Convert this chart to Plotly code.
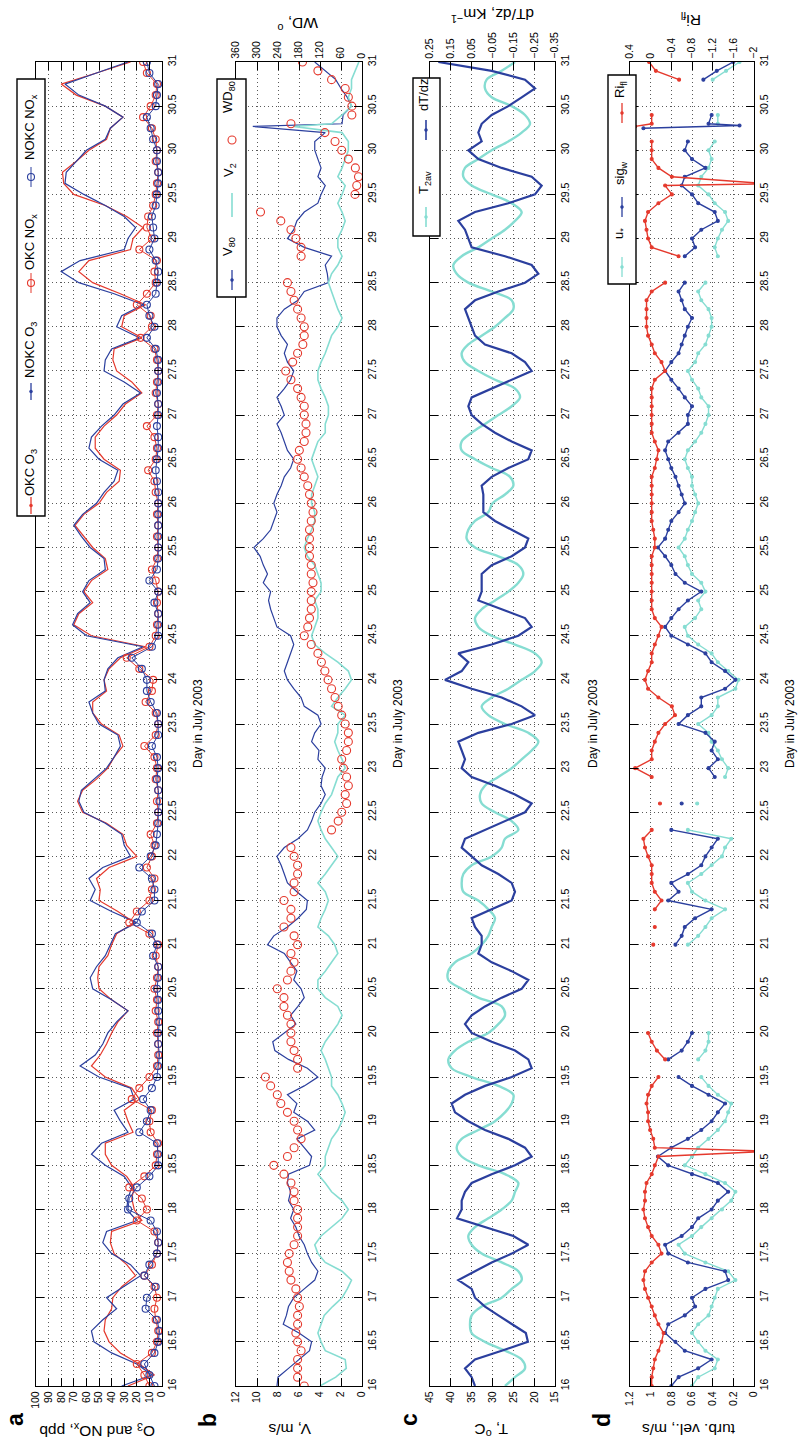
import plotly.graph_objects as go

W, H = 799, 1440
FONT = "Liberation Sans, Arial, Helvetica, sans-serif"

days_a = [16 + 0.125 * i for i in range(121)]          # panel a (every 3 h)
days_b = [round(16 + 0.1 * i, 1) for i in range(151)]  # panels b, c, d

# ---------------- panel a : O3 and NOx, ppb ----------------
o3_okc = [27, 6, 18, 33, 42, 46, 45, 40,
          39, 32, 21, 28, 38, 41, 40, 16,
          22, 24, 22, 28, 40, 45, 45, 23,
          27, 30, 18, 24, 45, 56, 49, 44,
          40, 35, 27, 40, 50, 51, 50, 43,
          40, 36, 22, 35, 50, 49, 52, 42,
          20, 28, 31, 44, 63, 67, 63, 52,
          43, 38, 31, 34, 48, 55, 55, 44,
          46, 42, 33, 13, 56, 70, 66, 55,
          62, 56, 43, 45, 55, 62, 69, 62,
          50, 44, 34, 33, 46, 53, 53, 46,
          36, 29, 16, 24, 36, 39, 38, 16,
          32, 30, 13, 33, 55, 66, 58, 25,
          23, 15, 28, 45, 70, 78, 79, 68,
          58, 44, 41, 31, 45, 68, 80, 52,
          25]
o3_nokc = [32, 8, 20, 40, 54, 56, 47, 36,
           44, 30, 17, 25, 40, 47, 44, 20,
           28, 27, 24, 30, 45, 56, 48, 27,
           33, 38, 22, 25, 50, 65, 53, 47,
           43, 36, 27, 40, 55, 57, 52, 45,
           41, 37, 20, 40, 57, 53, 58, 47,
           25, 30, 32, 45, 62, 66, 64, 54,
           44, 38, 33, 35, 50, 55, 58, 45,
           46, 43, 35, 15, 60, 71, 67, 57,
           63, 58, 45, 46, 57, 64, 70, 63,
           52, 46, 38, 35, 50, 58, 56, 48,
           38, 31, 17, 30, 46, 45, 40, 18,
           36, 32, 15, 38, 66, 80, 65, 30,
           27, 21, 30, 45, 62, 77, 76, 68,
           60, 45, 41, 31, 45, 66, 77, 52,
           27]
nox_okc = [10, 14, 20, 8, 4, 3, 5, 6,
           4, 6, 14, 8, 4, 3, 6, 20,
           12, 16, 26, 14, 5, 4, 3, 9,
           10, 8, 24, 18, 10, 4, 3, 3,
           4, 3, 5, 4, 6, 4, 3, 5,
           3, 10, 26, 20, 10, 8, 6, 12,
           8, 6, 9, 4, 3, 4, 3, 5,
           4, 6, 14, 5, 3, 5, 13, 8,
           7, 18, 28, 10, 5, 4, 3, 4,
           3, 5, 8, 4, 3, 4, 3, 4,
           3, 5, 6, 11, 5, 4, 6, 12,
           4, 3, 5, 4, 3, 4, 6, 17,
           8, 9, 20, 12, 5, 6, 4, 18,
           8, 12, 11, 7, 5, 4, 3, 5,
           4, 5, 8, 15, 9, 5, 4, 12,
           15]
nox_nokc = [6, 10, 14, 6, 3, 2, 4, 13,
            12, 5, 14, 10, 4, 3, 4, 9,
            27, 26, 20, 10, 3, 3, 4, 18,
            12, 9, 15, 8, 4, 3, 2, 3,
            3, 2, 3, 3, 4, 3, 3, 7,
            4, 8, 20, 16, 6, 6, 8, 18,
            9, 5, 4, 3, 3, 2, 3, 4,
            3, 4, 8, 3, 3, 4, 9, 12,
            12, 16, 24, 8, 3, 3, 3, 6,
            3, 10, 4, 3, 3, 3, 3, 3,
            3, 3, 4, 5, 4, 3, 3, 4,
            3, 3, 4, 3, 3, 3, 5, 12,
            6, 10, 12, 5, 4, 3, 5, 10,
            6, 7, 8, 5, 4, 3, 3, 4,
            4, 7, 9, 12, 5, 4, 3, 10,
            12]

# ---------------- panel b : wind ----------------
v80 = [8.1, 8.0, 7.0, 6.0, 5.0, 4.8, 6.0, 7.5, 7.2, 7.0,
       6.5, 5.5, 4.5, 4.2, 4.8, 5.2, 5.5, 6.0, 6.3, 6.8,
       6.5, 7.0, 6.8, 7.1, 7.0, 5.0, 4.8, 5.5, 6.2, 4.5,
       5.2, 6.5, 6.2, 7.1, 5.5, 4.2, 5.2, 7.0, 8.3, 8.5,
       7.4, 6.3, 6.8, 6.1, 5.5, 5.8, 6.5, 6.2, 6.8, 7.4,
       9.0, 8.4, 7.1, 6.1, 5.3, 5.2, 6.2, 7.1, 7.4, 7.7,
       8.1, 7.4, 6.1, 5.2, 4.8, 4.5, 3.9, 3.5, 3.9, 3.8,
       3.5, 4.2, 4.1, 4.8, 4.5, 3.9, 4.2, 5.5, 5.8, 6.5,
       7.1, 7.4, 7.1, 6.8, 6.5, 6.8, 8.1, 8.4, 8.7, 8.9,
       8.7, 9.4, 9.0, 9.4, 9.7, 10.3, 9.4, 8.7, 8.4, 8.1,
       8.4, 8.1, 7.7, 7.4, 6.8, 6.5, 7.1, 7.4, 7.7, 8.1,
       7.4, 7.7, 8.1, 7.4, 6.8, 6.5, 7.1, 7.4, 7.1, 7.7,
       8.1, 8.1, 7.4, 6.1, 5.5, 3.2, 3.3, 3.5, 2.9, 5.5,
       7.1, 6.5, 6.2, 5.5, 4.2, 3.9, 3.5, 4.2, 3.9, 4.2,
       4.5, 4.5, 3.5, 1.9, 1.8, 1.0, 1.4, 2.0, 2.5, 3.5,
       4.5]
v2 = [4.0, 2.5, 1.5, 1.6, 3.5, 3.9, 4.2, 3.9, 3.6, 2.8,
      1.9, 1.4, 1.0, 1.9, 3.5, 4.2, 4.5, 3.9, 2.9, 1.9,
      1.3, 1.9, 2.9, 3.5, 4.2, 3.5, 3.5, 3.2, 2.9, 2.3,
      1.9, 1.6, 1.9, 2.3, 2.9, 2.9, 3.2, 3.5, 3.9, 3.5,
      2.9, 2.3, 1.9, 2.3, 3.5, 4.2, 4.2, 3.5, 2.9, 2.3,
      2.6, 3.2, 4.2, 3.9, 3.5, 3.2, 3.5, 4.2, 3.5, 2.9,
      2.3, 2.9, 3.5, 3.9, 4.2, 3.9, 3.5, 2.9, 2.6, 2.3,
      1.6, 1.9, 2.3, 2.6, 2.3, 2.3, 1.6, 2.9, 2.3, 1.6,
      1.0, 1.3, 2.3, 3.5, 4.5, 4.8, 4.5, 4.2, 4.2, 4.5,
      3.9, 3.9, 4.2, 4.5, 5.2, 5.5, 5.2, 4.8, 4.5, 4.5,
      4.8, 4.8, 4.5, 4.2, 4.5, 4.8, 4.5, 4.2, 3.5, 3.5,
      3.2, 3.2, 3.5, 3.9, 4.2, 4.2, 3.9, 3.5, 3.2, 2.9,
      2.3, 1.9, 2.3, 2.6, 2.9, 3.2, 2.9, 2.3, 1.9, 2.3,
      2.3, 1.9, 1.6, 1.9, 2.3, 1.9, 1.6, 2.3, 1.9, 1.6,
      1.3, 1.3, 1.9, 2.9, 1.9, 1.0, 1.3, 1.0, 1.0, 0.65,
      0.3]
wd80 = [165, 184, 184, 184, 174, 184, 189, 184, 184, 179,
        184, 189, 203, 208, 213, 208, 194, 184, 184, 184,
        184, 194, 194, 203, 223, 252, 213, 194, 174, 184,
        194, 213, 232, 242, 261, 276, 184, 184, 194, 203,
        203, 203, 213, 223, 223, 242, 213, 203, 194, 203,
        184, 194, 223, 203, 203, 223, 194, 194, 184, 184,
        194, 203, None, 87, 68, 58, 44, 48, 39, 44,
        53, 58, 44, 39, 39, 48, 58, 68, 77, 87,
        97, 106, 116, 126, 145, 165, 155, 150, 145, 145,
        145, 140, 145, 145, 150, 150, 150, 150, 145, 140,
        145, 150, 155, 165, 174, 184, 179, 165, 160, 160,
        165, 165, 174, 184, 203, 218, 198, 184, 169, 165,
        165, 174, 184, 194, 203, 213, None, None, 174, 174,
        189, 203, 232, 290, None, 20, 15, 10, 19, 39,
        58, 77, 106, 203, 29, 29, 39, 48, 87, 126,
        170]
spike_days_b = [30.27]
v80_spike = [10.4]
v2_spike = [6.5]

# ---------------- panel c : temperature ----------------
t2av = [27.0, 24.6, 22.2, 23.0, 27.0, 31.8, 35.0, 35.4, 35.0, 32.6,
        27.8, 25.4, 23.0, 23.8, 27.8, 32.6, 35.0, 35.8, 34.2, 31.0,
        27.8, 25.4, 24.6, 23.8, 27.0, 33.4, 37.4, 38.6, 37.4, 33.4,
        29.4, 27.0, 25.4, 25.0, 28.6, 35.0, 39.8, 40.6, 39.0, 35.8,
        31.0, 28.6, 27.0, 27.8, 33.4, 37.4, 40.6, 40.6, 39.0, 35.0,
        32.6, 31.0, 30.2, 29.4, 31.0, 33.4, 37.0, 37.4, 37.0, 35.0,
        30.2, 27.8, 27.0, 23.8, 25.4, 29.4, 32.6, 33.0, 31.8, 28.6,
        25.4, 23.0, 20.6, 19.0, 21.4, 27.0, 31.0, 32.6, 30.2, 26.2,
        23.0, 19.8, 18.2, 19.8, 24.6, 30.2, 33.4, 34.2, 32.6, 29.4,
        26.2, 23.8, 22.6, 23.8, 28.6, 34.2, 36.2, 35.8, 34.2, 31.0,
        30.0, 27.0, 25.0, 25.8, 30.2, 34.2, 37.4, 37.4, 35.0, 31.8,
        28.6, 25.4, 23.4, 24.6, 29.4, 33.4, 36.6, 37.4, 35.8, 32.6,
        29.4, 27.0, 25.0, 25.4, 30.2, 35.8, 38.6, 39.4, 37.4, 33.4,
        30.2, 27.0, 24.6, 23.0, 25.4, 30.2, 35.0, 37.0, 36.6, 33.4,
        30.2, 26.2, 23.0, 21.0, 22.2, 25.4, 30.2, 31.8, 31.4, 27.8,
        24.6]
dtdz = [0.034, 0.05, 0.082, 0.034, -0.094, -0.22, -0.21, -0.142, -0.078, -0.014,
        0.034, 0.05, 0.114, 0.034, -0.046, -0.142, -0.222, -0.15, -0.02, 0.12,
        0.098, 0.098, 0.082, 0.05, -0.046, -0.158, -0.238, -0.206, -0.126, -0.014,
        0.066, 0.13, 0.146, 0.082, -0.014, -0.142, -0.238, -0.222, -0.158, -0.046,
        0.05, 0.082, 0.05, -0.014, -0.094, -0.19, -0.222, -0.142, -0.046, 0.018,
        0.002, 0.002, 0.034, 0.05, -0.046, -0.142, -0.158, -0.142, -0.078, 0.002,
        0.05, 0.098, 0.082, -0.014, -0.11, -0.206, -0.238, -0.158, -0.062, 0.05,
        0.098, 0.082, 0.098, 0.114, 0.018, -0.142, -0.254, -0.19, -0.094, 0.05,
        0.178, 0.098, 0.066, 0.114, -0.046, -0.174, -0.238, -0.206, -0.094, 0.018,
        0.002, 0.002, 0.002, -0.046, -0.142, -0.206, -0.222, -0.142, -0.062, -0.006,
        -0.006, -0.006, 0.002, -0.046, -0.126, -0.222, -0.238, -0.142, -0.062, 0.002,
        0.05, 0.066, 0.05, -0.046, -0.142, -0.238, -0.206, -0.142, -0.014, 0.034,
        0.05, 0.066, 0.082, 0.034, -0.078, -0.206, -0.27, -0.238, -0.11, 0.05,
        0.066, 0.082, 0.114, 0.034, -0.126, -0.254, -0.286, -0.238, -0.094, 0.018,
        0.066, 0.002, 0.018, 0.002, -0.046, -0.126, -0.19, -0.254, -0.206, -0.046,
        0.21]

# ---------------- panel d : turbulence ----------------
ustar = [0.60, 0.54, 0.38, 0.35, 0.47, 0.54, 0.60, 0.54, 0.44, 0.41,
         0.38, 0.35, 0.18, 0.25, 0.47, 0.67, 0.73, 0.60, 0.51, 0.41,
         0.31, 0.22, 0.18, 0.28, 0.47, 0.67, 0.60, 0.54, 0.44, 0.35,
         0.28, 0.25, 0.22, 0.35, 0.44, 0.51, None, 0.54, 0.47, 0.44,
         0.44, None, None, None, None, None, None, None, None, None,
         0.64, 0.54, 0.47, 0.41, 0.28, 0.47, 0.60, 0.64, 0.51, 0.41,
         0.31, 0.28, 0.22, 0.64, None, None, 0.55, None, None, 0.28,
         0.25, 0.31, 0.35, 0.41, 0.44, 0.54, 0.41, 0.35, 0.35, 0.18,
         0.15, 0.25, 0.35, 0.41, 0.54, 0.64, 0.67, 0.57, 0.51, 0.54,
         0.47, 0.51, 0.60, 0.64, 0.67, 0.73, 0.67, 0.64, 0.60, 0.57,
         0.54, 0.57, 0.60, 0.60, 0.64, 0.67, 0.64, 0.57, 0.51, 0.47,
         0.44, 0.44, 0.51, 0.54, 0.60, 0.64, 0.57, 0.54, 0.47, 0.44,
         0.41, 0.41, 0.44, 0.51, 0.54, 0.47, None, None, 0.35, 0.38,
         0.35, 0.31, 0.25, 0.28, 0.38, 0.44, 0.54, 0.51, 0.44, 0.41,
         0.44, 0.38, None, 0.35, 0.35, None, None, None, 0.40, 0.27,
         0.14]
sigw = [0.80, 0.73, 0.54, 0.41, 0.67, 0.76, 0.86, 0.83, 0.67, 0.57,
        0.60, 0.47, 0.25, 0.28, 0.64, 0.83, 0.86, 0.70, 0.60, 0.54,
        0.41, 0.35, 0.25, 0.35, 0.60, 0.83, 0.93, 0.80, 0.64, 0.51,
        0.41, 0.35, 0.28, 0.44, 0.60, 0.73, None, 0.83, 0.70, 0.64,
        0.60, None, None, None, None, None, None, None, None, None,
        0.76, 0.70, 0.67, 0.57, 0.41, 0.83, 0.73, 0.80, 0.64, 0.51,
        0.47, 0.41, 0.35, 0.80, None, None, 0.70, None, None, 0.38,
        0.44, 0.35, 0.41, 0.38, 0.47, 0.73, 0.64, 0.51, 0.51, 0.28,
        0.18, 0.28, 0.41, 0.47, 0.64, 0.80, 0.86, 0.80, 0.73, 0.64,
        0.51, 0.67, 0.76, 0.80, 0.86, 0.93, 0.86, 0.83, 0.80, 0.73,
        0.67, 0.70, 0.73, 0.76, 0.80, 0.83, 0.86, 0.83, 0.73, 0.64,
        0.64, 0.60, 0.67, 0.73, 0.80, 0.86, 0.80, 0.73, 0.70, 0.67,
        0.64, 0.60, 0.67, 0.70, 0.73, 0.67, None, None, 0.67, 0.57,
        0.60, 0.51, 0.35, 0.38, 0.54, 0.60, 0.70, 0.67, 0.47, 0.60,
        0.67, 0.64, None, 0.44, 0.41, None, None, None, 0.49, 0.36,
        0.20]
ri_fl = [-0.02, -0.02, -0.05, -0.08, -0.15, -0.21, -0.25, -0.15, -0.08, -0.02,
         0.05, 0.11, 0.14, 0.11, -0.02, -0.21, -0.15, -0.02, 0.05, 0.11,
         0.14, 0.11, 0.11, 0.08, -0.02, -0.08, -0.15, -0.08, -0.05, 0.01,
         0.05, 0.05, 0.08, 0.05, -0.02, -0.15, None, -0.28, -0.12, -0.02,
         0.05, None, None, None, None, None, None, None, None, None,
         -0.05, None, -0.08, None, -0.08, -0.21, -0.08, -0.02, -0.02, -0.02,
         0.05, 0.11, 0.14, -0.02, None, None, -0.18, None, None, -0.02,
         0.30, -0.02, -0.02, -0.08, -0.15, -0.28, -0.47, -0.41, -0.15, 0.05,
         0.11, 0.05, -0.02, -0.02, -0.08, -0.15, -0.21, -0.08, -0.02, -0.02,
         -0.02, -0.02, -0.02, -0.02, -0.02, -0.08, -0.08, -0.05, -0.02, -0.02,
         -0.02, -0.02, -0.02, -0.02, -0.08, -0.12, -0.15, -0.08, -0.02, -0.02,
         -0.02, -0.02, -0.02, -0.02, -0.08, -0.28, -0.21, -0.08, -0.02, 0.05,
         0.08, 0.08, 0.08, 0.08, -0.02, -0.28, None, None, -0.54, -0.02,
         0.05, 0.08, 0.11, 0.05, -0.15, -0.41, -0.28, -0.41, -0.15, -0.02,
         -0.02, -0.02, None, -0.02, -0.02, None, None, None, -0.55, -0.10,
         0.03]
ri_spike_days = [18.66, 29.62, 30.27]
ri_spike_vals = [-2.3, -2.3, 0.30]
sigw_spike_days = [30.25, 30.28]
sigw_spike_vals = [1.07, 0.14]

# ---------------- tick labels ----------------
day_ticks = [16 + 0.5 * i for i in range(31)]
day_text = [f"{v:g}" for v in day_ticks]
o3_ticks = list(range(0, 101, 10))
v_ticks = [0, 2, 4, 6, 8, 10, 12]
wd_ticks = [0, 60, 120, 180, 240, 300, 360]
t_ticks = [15, 20, 25, 30, 35, 40, 45]
dt_ticks = [-0.35, -0.25, -0.15, -0.05, 0.05, 0.15, 0.25]
dt_text = ["\u22120.35", "\u22120.25", "\u22120.15", "\u22120.05", "0.05", "0.15", "0.25"]
tv_ticks = [0, 0.2, 0.4, 0.6, 0.8, 1.0, 1.2]
tv_text = ["0", "0.2", "0.4", "0.6", "0.8", "1", "1.2"]
ri_ticks = [-2, -1.6, -1.2, -0.8, -0.4, 0, 0.4]
ri_text = ["\u22122", "\u22121.6", "\u22121.2", "\u22120.8", "\u22120.4", "0", "0.4"]


def merged(days, vals, extra_days, extra_vals):
    pts = sorted(list(zip(days, vals)) + list(zip(extra_days, extra_vals)), key=lambda p: p[0])
    return [p[0] for p in pts], [p[1] for p in pts]


def px(x):
    return x / W


def py(y):
    return 1 - y / H


RED = "#e5392d"
BLUE = "#2b3f9e"
CYAN = "#86ddd2"

fig = go.Figure()


def add(x, y, xa, ya, color, width=1.3, mode="lines", msize=3, symbol="circle", shape="linear"):
    fig.add_trace(go.Scatter(
        x=x, y=y, xaxis=xa, yaxis=ya, mode=mode, showlegend=False,
        line=dict(color=color, width=width, shape=shape),
        marker=dict(color=color, size=msize, symbol=symbol, line=dict(color=color, width=1.1)),
        connectgaps=False, hoverinfo="skip"))


# panel a
add(o3_okc, days_a, "x", "y", RED, 1.2)
add(o3_nokc, days_a, "x", "y", BLUE, 1.2)
add(nox_okc, days_a, "x", "y", RED, 1.0, "lines+markers", 7, "circle-open")
add(nox_nokc, days_a, "x", "y", BLUE, 1.0, "lines+markers", 7, "circle-open")
# panel b
d, v = merged(days_b, v80, spike_days_b, v80_spike)
add(v, d, "x2", "y2", BLUE, 1.2)
d, v = merged(days_b, v2, spike_days_b, v2_spike)
add(v, d, "x2", "y2", CYAN, 1.6)
add(wd80, days_b, "x5", "y2", RED, 1.0, "markers", 8, "circle-open")
# panel c
add(t2av, days_b, "x3", "y3", CYAN, 2.4, shape="spline")
add(dtdz, days_b, "x6", "y3", BLUE, 2.2)
# panel d
add(ustar, days_b, "x4", "y4", CYAN, 1.4, "lines+markers", 3)
d, v = merged(days_b, sigw, sigw_spike_days, sigw_spike_vals)
add(v, d, "x4", "y4", BLUE, 1.4, "lines+markers", 3)
d, v = merged(days_b, ri_fl, ri_spike_days, ri_spike_vals)
add(v, d, "x7", "y4", RED, 1.4, "lines+markers", 3)

YD = [py(1386), py(62)]
base = dict(ticks="inside", ticklen=8, tickwidth=1, tickcolor="black", showline=True,
            linecolor="black", linewidth=1.3, tickangle=-90,
            tickfont=dict(family=FONT, size=10.5, color="black"),
            zeroline=False, automargin=False, fixedrange=True, tickmode="array")
grid = dict(showgrid=True, gridcolor="#5a5a5a", griddash="1px,3px", gridwidth=1)
nogrid = dict(showgrid=False)

lay = {}
frames = {"": (36, 162), "2": (236, 362), "3": (430, 555), "4": (630, 754)}
for k, (x0, x1) in frames.items():
    lay["yaxis" + k] = dict(domain=YD, range=[16, 31], tickvals=day_ticks, ticktext=day_text,
                            side="right", anchor="x" + k, mirror="ticks", **base, **grid)
lay["xaxis"] = dict(domain=[px(36), px(162)], range=[100, 0], tickvals=o3_ticks, anchor="y",
                    side="bottom", mirror="ticks", **base, **grid)
lay["xaxis2"] = dict(domain=[px(236), px(362)], range=[12, 0], tickvals=v_ticks, anchor="y2",
                     side="bottom", **base, **grid)
lay["xaxis3"] = dict(domain=[px(430), px(555)], range=[45, 15], tickvals=t_ticks, anchor="y3",
                     side="bottom", **base, **grid)
lay["xaxis4"] = dict(domain=[px(630), px(754)], range=[1.2, 0], tickvals=tv_ticks, ticktext=tv_text,
                     anchor="y4", side="bottom", **base, **grid)
lay["xaxis5"] = dict(overlaying="x2", side="top", anchor="y2", range=[360, 0], tickvals=wd_ticks, **base, **nogrid)
lay["xaxis6"] = dict(overlaying="x3", side="top", anchor="y3", range=[0.25, -0.35], tickvals=dt_ticks,
                     ticktext=dt_text, **base, **nogrid)
lay["xaxis7"] = dict(overlaying="x4", side="top", anchor="y4", range=[0.4, -2], tickvals=ri_ticks,
                     ticktext=ri_text, **base, **nogrid)

# ---------------- legends (drawn rotated, as in the figure) ----------------
shapes = []
ann = []


def box(x0, x1, y0, y1):
    shapes.append(dict(type="rect", xref="paper", yref="paper", x0=px(x0), x1=px(x1),
                       y0=py(y1), y1=py(y0), line=dict(color="black", width=1.4),
                       fillcolor="white", layer="above"))


def seg(x, y0, y1, color, width=1.3):
    shapes.append(dict(type="line", xref="paper", yref="paper", x0=px(x), x1=px(x),
                       y0=py(y0), y1=py(y1), line=dict(color=color, width=width), layer="above"))


def circ(x, y, r, color, filled=False):
    shapes.append(dict(type="circle", xref="paper", yref="paper", x0=px(x - r), x1=px(x + r),
                       y0=py(y + r), y1=py(y - r), line=dict(color=color, width=1.1),
                       fillcolor=color if filled else "rgba(0,0,0,0)", layer="above"))


def text(x, y, s, angle=-90, size=13, bold=False):
    ann.append(dict(xref="paper", yref="paper", x=px(x), y=py(y), text=("<b>%s</b>" % s) if bold else s,
                    showarrow=False, textangle=angle, xanchor="center", yanchor="middle",
                    font=dict(family=FONT, size=size, color="black")))


# panel a legend
box(17, 45, 79, 516)
seg(31, 497, 514, RED); circ(31, 505.5, 1.2, RED, True)
text(30, 473, "OKC O<sub>3</sub>")
seg(31, 383, 400, BLUE); circ(31, 391.5, 1.2, BLUE, True)
text(30, 350, "NOKC O<sub>3</sub>")
seg(31, 273, 293, RED, 1.0); circ(31, 283, 3.5, RED)
text(30, 242, "OKC NO<sub>x</sub>")
seg(31, 167, 187, BLUE, 1.0); circ(31, 177, 3.5, BLUE)
text(30, 127, "NOKC NO<sub>x</sub>")
# panel b legend
box(217, 246, 79, 297)
seg(232, 270, 290, BLUE); circ(232, 280, 1.2, BLUE, True)
text(229, 247, "V<sub>80</sub>")
seg(232, 193, 217, CYAN, 1.6)
text(229, 170, "V<sub>2</sub>")
circ(232, 140, 4, RED)
text(229, 97, "WD<sub>80</sub>")
# panel c legend
box(413, 440, 78, 236)
seg(426, 207, 227, CYAN, 1.6); circ(426, 217, 1.2, CYAN, True)
text(424, 183, "T<sub>2av</sub>")
seg(426, 120, 140, BLUE, 1.6); circ(426, 130, 1.2, BLUE, True)
text(424, 95, "dT/dz")
# panel d legend
box(608, 636, 75, 284)
seg(622, 257, 277, CYAN); circ(622, 267, 1.2, CYAN, True)
text(620, 234, "u<sub>*</sub>")
seg(622, 197, 217, BLUE); circ(622, 207, 1.2, BLUE, True)
text(620, 173, "sig<sub>w</sub>")
seg(622, 103, 123, RED); circ(622, 113, 1.2, RED, True)
text(620, 90, "Ri<sub>fl</sub>")

# panel letters
for lx, s in [(15, "a"), (208, "b"), (409, "c"), (602, "d")]:
    text(lx, 1420, s, -90, 23, True)
# axis titles (upside down, as in the rotated figure)
text(97, 1431, "O<sub>3</sub> and NO<sub>x</sub>, ppb", 180, 15.5)
text(290, 1430, "V, m/s", 180, 15.5)
text(491, 1430, "T, <sup>o</sup>C", 180, 15.5)
text(689, 1430, "turb. vel., m/s", 180, 15.5)
text(298, 24, "WD, <sup>o</sup>", 180, 15.5)
text(492, 15, "dT/dz, Km<sup>\u22121</sup>", 180, 15.5)
text(691, 19, "Ri<sub>fl</sub>", 180, 15.5)
for lx in [198, 398, 593, 790]:
    text(lx, 724, "Day in July 2003", -90, 12)

fig.update_layout(width=W, height=H, margin=dict(l=0, r=0, t=0, b=0), autosize=False,
                  template="none", paper_bgcolor="white", plot_bgcolor="white",
                  showlegend=False, shapes=shapes, annotations=ann,
                  font=dict(family=FONT, color="black"), **lay)

fig.write_html("out.html")
